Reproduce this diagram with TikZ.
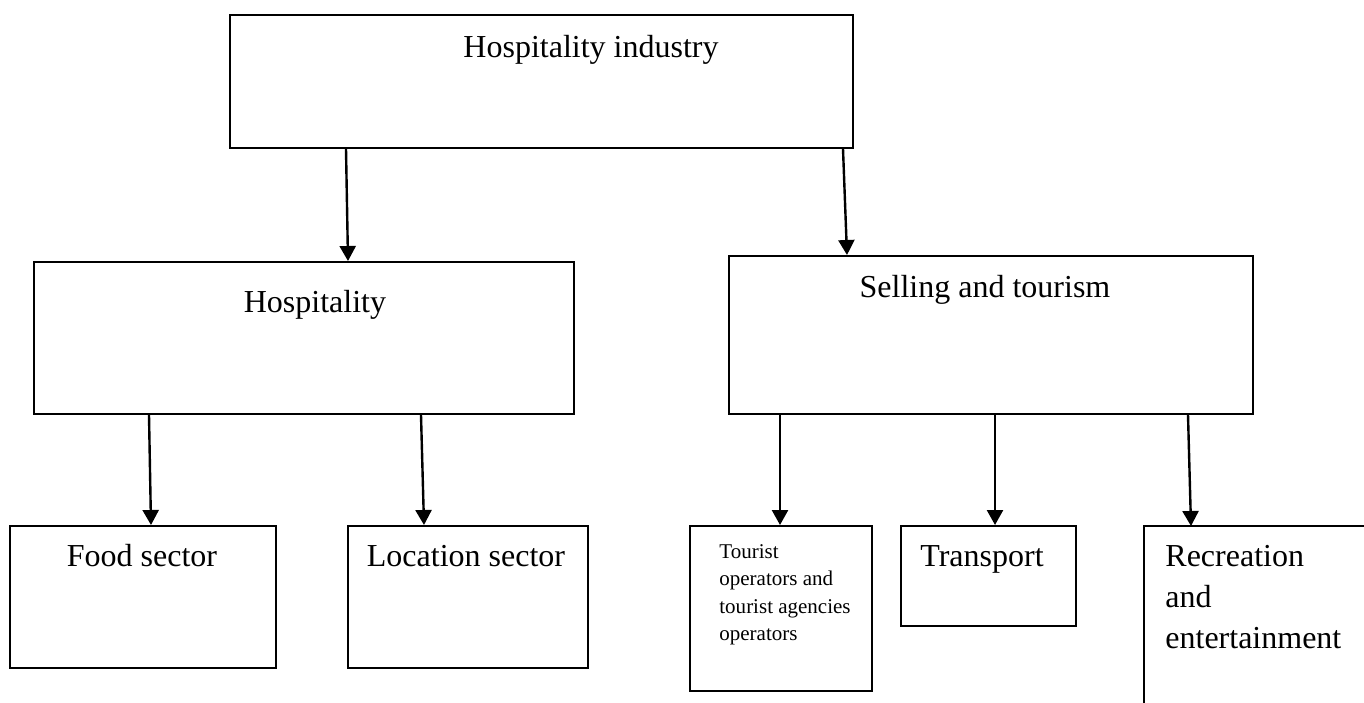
\documentclass[tikz,border=0pt]{standalone}
\usepackage{fontspec}
\setmainfont{Liberation Serif}
\usetikzlibrary{arrows.meta,calc}

\begin{document}
\begin{tikzpicture}[x=0.5pt,y=-0.5pt,
  box node/.style={draw,line width=1pt,rectangle,anchor=north west,inner sep=0pt},
  big text/.style={font=\fontsize{16}{20.5}\selectfont,inner sep=0pt},
  small text/.style={font=\fontsize{10.5}{13.7}\selectfont,inner sep=0pt,align=left},
  arr/.style={-{Triangle[width=8pt,length=7.5pt]},line width=1.2pt}]
  \useasboundingbox (0,0) rectangle (1364,702);

  % boxes
  \node[box node,minimum width=311.5pt,minimum height=66.5pt] (industry) at (229,14) {};
  \node[box node,minimum width=270pt,minimum height=76pt] (hosp) at (33,261) {};
  \node[box node,minimum width=262pt,minimum height=79pt] (selling) at (728,255) {};
  \node[box node,minimum width=133pt,minimum height=71pt] (food) at (9,525) {};
  \node[box node,minimum width=120pt,minimum height=71pt] (location) at (347,525) {};
  \node[box node,minimum width=91pt,minimum height=82.5pt] (tourist) at (689,525) {};
  \node[box node,minimum width=87.5pt,minimum height=50pt] (transport) at (900,525) {};
  \coordinate (recreation) at (1144,526);
  \draw[line width=1pt] (1366,526) -- (recreation) -- (1144,704);

  % texts
  \node[big text,anchor=base] (industrytxt) at (591,57) {Hospitality industry};
  \node[big text,anchor=base] (hosptxt) at (315,312) {Hospitality};
  \node[big text,anchor=base] (sellingtxt) at (985,297) {Selling and tourism};
  \node[big text,anchor=base] (foodtxt) at (142,566) {Food sector};
  \node[big text,anchor=base] (locationtxt) at (466,566) {Location sector};
  \node[big text,anchor=base] (transporttxt) at (982,566) {Transport};
  \node[small text,anchor=north west] (touristtxt) at (719,544)
    {Tourist\\operators and\\tourist agencies\\operators};
  \node[big text,align=left,anchor=north west] (recreationtxt) at (1165,545)
    {Recreation\\and\\entertainment};

  % arrows
  \draw[arr] ($(industry.south west)+(117,0)$) -- ($(hosp.north west)+(315,0)$);
  \draw[arr] ($(industry.south west)+(614,0)$) -- ($(selling.north west)+(119,0)$);
  \draw[arr] ($(hosp.south west)+(116,0)$) -- ($(food.north west)+(142,0)$);
  \draw[arr] ($(hosp.south west)+(388,0)$) -- ($(location.north west)+(77,0)$);
  \draw[arr] ($(selling.south west)+(52,0)$) -- ($(tourist.north west)+(91,0)$);
  \draw[arr] ($(selling.south west)+(267,0)$) -- ($(transport.north west)+(95,0)$);
  \draw[arr] ($(selling.south west)+(460,0)$) -- ($(recreation)+(47,0)$);
\end{tikzpicture}
\end{document}
